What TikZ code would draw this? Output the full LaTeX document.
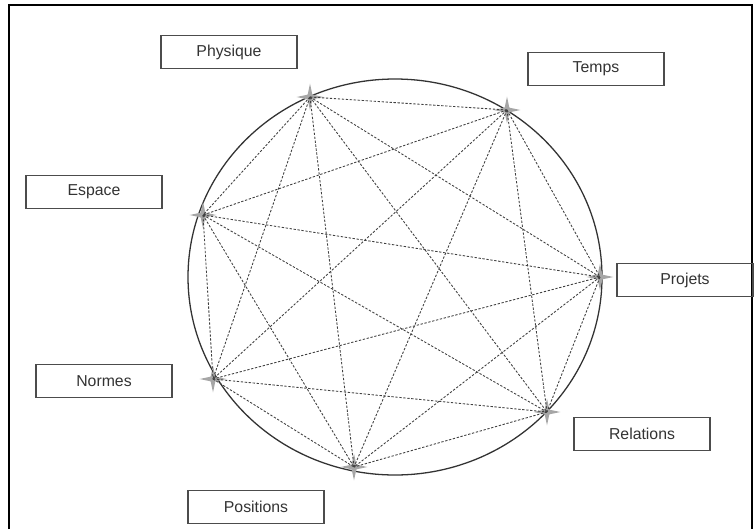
\documentclass[tikz,border=0pt]{standalone}
\usepackage{fontspec}
\setmainfont{Liberation Sans}
\usepackage{tikz}
\usetikzlibrary{shapes.geometric}
\tikzset{
  lbox/.style = {draw=black!70, line width=1.2pt, rectangle, align=center,
    minimum width=4.08cm, minimum height=1.0cm, inner sep=0pt,
    font=\fontsize{13.5}{16}\selectfont, text=black!80},% boite de libelle
  pole/.style = {star, star points=4, star point ratio=4, fill=black!35,
    draw=none, minimum size=0.8cm, inner sep=0pt},% sommet sur le cercle
  lien/.style = {draw=black!75, line width=0.75pt, dash pattern=on 2pt off 1.4pt}% lien pointille
}
\begin{document}
\begin{tikzpicture}[x=0.03cm,y=-0.03cm]
  \useasboundingbox (0,0) rectangle (756,529);
  \draw[line width=1.6pt] (9,529) |- (752,5) -- (752,529);
  \draw[black!80, line width=1.1pt] (395,277) ellipse [x radius=207, y radius=198];

  \node [pole] (phy) at (310,97)  {};
  \node [pole] (tmp) at (507,110) {};
  \node [pole] (esp) at (203,215) {};
  \node [pole] (prj) at (600,277) {};
  \node [pole] (nrm) at (213,379) {};
  \node [pole] (rel) at (547,412) {};
  \node [pole] (pos) at (354,467) {};

  \foreach \from/\to in {phy/tmp,phy/esp,phy/prj,phy/nrm,phy/rel,phy/pos,
      tmp/esp,tmp/prj,tmp/nrm,tmp/rel,tmp/pos,
      esp/prj,esp/nrm,esp/rel,esp/pos,
      prj/nrm,prj/rel,prj/pos,
      nrm/rel,nrm/pos,rel/pos}
    \draw [lien] (\from.center) -- (\to.center);

  \node [lbox] (l_phy) at (229,52)  {Physique};
  \node [lbox] (l_tmp) at (596,69)  {Temps};
  \node [lbox] (l_esp) at (94,192)  {Espace};
  \node [lbox] (l_prj) at (685,280) {Projets};
  \node [lbox] (l_nrm) at (104,381) {Normes};
  \node [lbox] (l_rel) at (642,434) {Relations};
  \node [lbox] (l_pos) at (256,507) {Positions};
\end{tikzpicture}
\end{document}
